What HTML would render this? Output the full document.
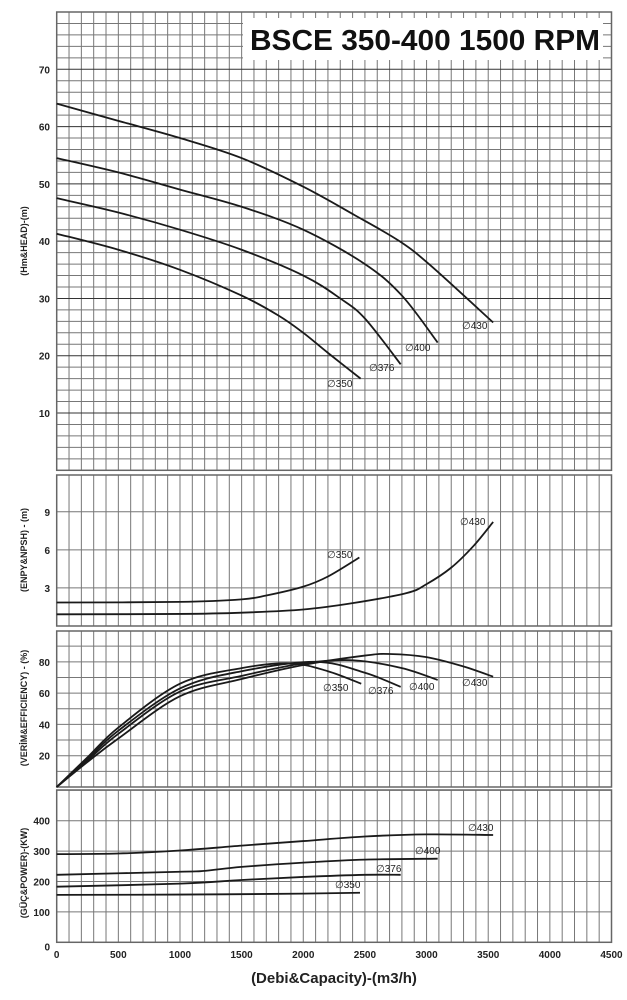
<!DOCTYPE html>
<html><head><meta charset="utf-8"><style>
html,body{margin:0;padding:0;background:#fff;}
svg{display:block;font-family:"Liberation Sans",sans-serif;}
</style></head><body>
<svg id="c" width="627" height="1000" viewBox="0 0 627 1000" xmlns="http://www.w3.org/2000/svg"></svg>
<script>
const xTicks=[0,500,1000,1500,2000,2500,3000,3500,4000,4500];
const diameters=["350","376","400","430"];
// Head (m)
const headQ350=[0,500,1000,1500,1800,2000,2200,2465];
const headH350=[41.3,38.5,35,30.5,27,24,20.5,16];
const headQ376=[0,500,1000,1500,2000,2300,2500,2790];
const headH376=[47.5,45,42,38.5,34,30,26.5,18.5];
const headQ400=[0,500,1000,1500,2000,2500,2800,3090];
const headH400=[54.5,52,49,46,42,36,30.5,22.3];
const headQ430=[0,500,1000,1500,2000,2420,2780,3030,3540];
const headH430=[64,61,58,54.5,49.5,44.5,40,35.8,25.8];
const headTicks=[10,20,30,40,50,60,70];
// NPSH (m)
const npshQ350=[0,1000,1500,1700,2000,2200,2455];
const npshV350=[1.85,1.9,2.1,2.4,3.1,3.9,5.4];
const npshQ430=[0,1000,1500,2000,2400,2840,3000,3200,3380,3540];
const npshV430=[0.92,0.95,1.05,1.3,1.8,2.6,3.3,4.6,6.3,8.2];
const npshTicks=[3,6,9];
// Efficiency (%)
const effQ350=[0,250,500,1000,1500,1900,2200,2470];
const effV350=[0,19,38,66,76,79,74,66];
const effQ376=[0,250,500,1000,1500,2100,2500,2790];
const effV376=[0,18,36,63,74,80,73,64];
const effQ400=[0,250,500,1000,1500,2000,2400,2800,3090];
const effV400=[0,17,34,61,71,79,81,76,68.4];
const effQ430=[0,250,500,1000,1500,2000,2500,2700,3000,3300,3540];
const effV430=[0,16,31,58,69,78,84,85,83,77,70.5];
const effTicks=[20,40,60,80];
// Power (kW)
const powQ350=[0,1000,2000,2460];
const powV350=[156,157,160,163];
const powQ376=[0,1000,1500,2000,2500,2790];
const powV376=[183,193,205,215,222,222];
const powQ400=[0,1000,1200,1500,2000,2500,3090];
const powV400=[222,232,235,248,262,272,275];
const powQ430=[0,500,1000,1500,2000,2500,3000,3540];
const powV430=[290,292,302,318,333,348,355,353];
const powTicks=[0,100,200,300,400];

const svg=document.getElementById('c');
const NS='http://www.w3.org/2000/svg';
function mk(tag,attrs,parent){const e=document.createElementNS(NS,tag);for(const k in attrs)e.setAttribute(k,attrs[k]);(parent||svg).appendChild(e);return e;}
const X0=56.7,X1=611.5;
function xs(q){return X0+(X1-X0)*q/4500;}
function panel(top,bot,vmax){return v=>bot-(bot-top)*v/vmax;}
const yHead=panel(12,470.3,80), yNpsh=panel(475,626,11.9), yEff=panel(631,787,99.7), yPow=panel(790,942.3,501);

function grid(name,top,bot,ys,hStep,vmax,major){
  const g=mk('g',{});
  
  
  for(let q=100;q<4500;q+=100){mk('line',{x1:xs(q),x2:xs(q),y1:top,y2:bot,stroke:'#777','stroke-width':1},g);}
  for(let v=hStep;v<vmax-0.01;v+=hStep){const isM=major&&Math.abs(v%major)<0.01;mk('line',{x1:X0,x2:X1,y1:ys(v),y2:ys(v),stroke:isM?'#333':'#777','stroke-width':1},g);}
  const r=mk('rect',{x:X0,y:top,width:X1-X0,height:bot-top,fill:'none',stroke:'#666','stroke-width':1.5},g);
  
  
}
grid('head',12,470.3,yHead,2,80,10);
grid('npsh',475,626,yNpsh,3,11.9,0);
grid('eff',631,787,yEff,10,99.7,0);
grid('power',790,942.3,yPow,100,501,0);

function path(qs,vs,ys,name){
  const P=qs.map((q,i)=>[xs(q),ys(vs[i])]);
  let d='M'+P[0][0]+','+P[0][1];
  for(let i=0;i<P.length-1;i++){
    const p0=P[i-1]||P[i],p1=P[i],p2=P[i+1],p3=P[i+2]||P[i+1];
    const c1=[p1[0]+(p2[0]-p0[0])/6,p1[1]+(p2[1]-p0[1])/6];
    const c2=[p2[0]-(p3[0]-p1[0])/6,p2[1]-(p3[1]-p1[1])/6];
    d+=' C'+c1.join(',')+' '+c2.join(',')+' '+p2.join(',');
  }
  const e=mk('path',{d:d,fill:'none',stroke:'#1a1a1a','stroke-width':1.8});
  
  
}
path(headQ350,headH350,yHead,'head-curve-350');
path(headQ376,headH376,yHead,'head-curve-376');
path(headQ400,headH400,yHead,'head-curve-400');
path(headQ430,headH430,yHead,'head-curve-430');
path(npshQ350,npshV350,yNpsh,'npsh-curve-350');
path(npshQ430,npshV430,yNpsh,'npsh-curve-430');
path(effQ350,effV350,yEff,'eff-curve-350');
path(effQ376,effV376,yEff,'eff-curve-376');
path(effQ400,effV400,yEff,'eff-curve-400');
path(effQ430,effV430,yEff,'eff-curve-430');
path(powQ350,powV350,yPow,'power-curve-350');
path(powQ376,powV376,yPow,'power-curve-376');
path(powQ400,powV400,yPow,'power-curve-400');
path(powQ430,powV430,yPow,'power-curve-430');

function txt(x,y,s,name,attrs){const t=mk('text',Object.assign({x:x,y:y,'font-size':10,fill:'#222'},attrs||{}));t.textContent=s;return t;}
function lbl(x,y,d,name){txt(x,y,'\u2205'+d,name,{'font-size':10});}
lbl(462,329,'430','head-label-430');lbl(405,351,'400','head-label-400');lbl(369,371,'376','head-label-376');lbl(327,387,'350','head-label-350');
lbl(460,525,'430','npsh-label-430');lbl(327,558,'350','npsh-label-350');
lbl(323,691,'350','eff-label-350');lbl(368,694,'376','eff-label-376');lbl(409,690,'400','eff-label-400');lbl(462,686,'430','eff-label-430');
lbl(468,831,'430','power-label-430');lbl(415,854,'400','power-label-400');lbl(376,872,'376','power-label-376');lbl(335,888,'350','power-label-350');

headTicks.forEach(v=>txt(50,yHead(v)+4,v,'head-tick',{'text-anchor':'end','font-weight':'bold','font-size':10}));
npshTicks.forEach(v=>txt(50,yNpsh(v)+4,v,'npsh-tick',{'text-anchor':'end','font-weight':'bold','font-size':10}));
effTicks.forEach(v=>txt(50,yEff(v)+4,v,'eff-tick',{'text-anchor':'end','font-weight':'bold','font-size':10}));
powTicks.forEach(v=>txt(50,yPow(v)+(v===0?8:4),v,'power-tick',{'text-anchor':'end','font-weight':'bold','font-size':10}));
xTicks.forEach(v=>txt(xs(v),958,v,'x-tick',{'text-anchor':'middle','font-weight':'bold','font-size':10}));
txt(0,0,'(Hm&HEAD)-(m)','head-axis-title',{transform:'translate(27,241) rotate(-90)','text-anchor':'middle','font-size':9,'font-weight':'bold'});
txt(0,0,'(ENPY&NPSH) - (m)','npsh-axis-title',{transform:'translate(27,550) rotate(-90)','text-anchor':'middle','font-size':9,'font-weight':'bold'});
txt(0,0,'(VERİM&EFFICIENCY) - (%)','eff-axis-title',{transform:'translate(27,708) rotate(-90)','text-anchor':'middle','font-size':9,'font-weight':'bold'});
txt(0,0,'(GÜÇ&POWER)-(KW)','power-axis-title',{transform:'translate(27,873) rotate(-90)','text-anchor':'middle','font-size':9,'font-weight':'bold'});
txt(334,983,'(Debi&Capacity)-(m3/h)','x-axis-title',{'text-anchor':'middle','font-size':15,'font-weight':'bold'});
const tb=mk('rect',{x:243,y:18,width:360,height:42,fill:'#fff'});


txt(250,50,'BSCE 350-400 1500 RPM','chart-title',{'font-size':29,'font-weight':'bold',fill:'#111',textLength:350,lengthAdjust:'spacingAndGlyphs'});
</script>
</body></html>
